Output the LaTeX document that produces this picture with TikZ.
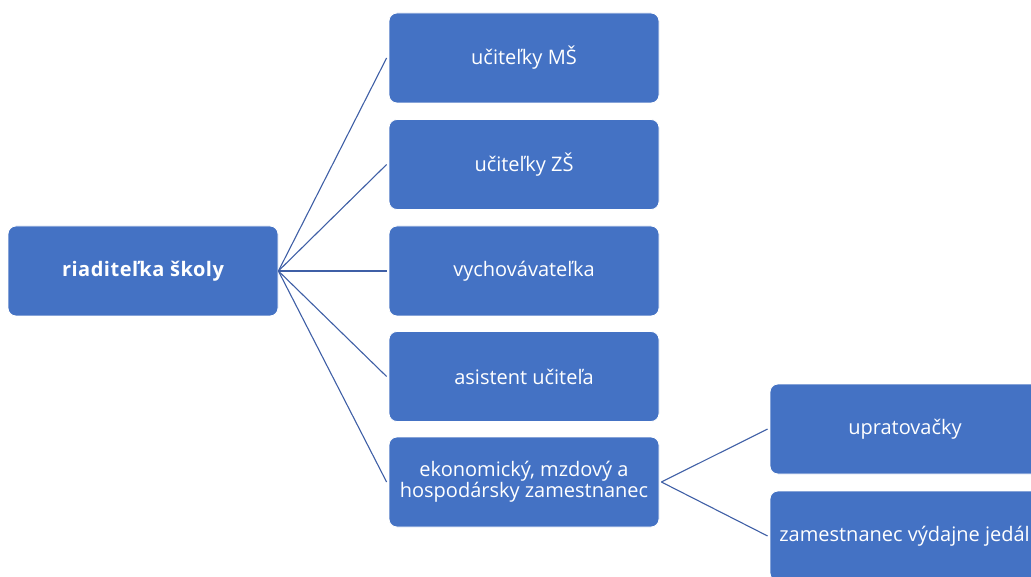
\documentclass[tikz,border=0pt]{standalone}
\usepackage{fontspec}
\setmainfont{Open Sans}
\definecolor{boxblue}{HTML}{4472C4}
\definecolor{linkblue}{HTML}{3F5FA6}
\begin{document}
\begin{tikzpicture}[x=1pt,y=-1pt,
  orgbox/.style={rectangle, rounded corners=8pt, fill=boxblue, draw=white, line width=0.8pt,
    minimum width=270pt, minimum height=90pt, inner sep=0pt, text=white, align=center,
    font=\fontsize{20}{17}\selectfont},
  rootbox/.style={orgbox, font=\fontsize{20}{17}\selectfont\bfseries\addfontfeature{LetterSpace=2.6}},
  link/.style={draw=linkblue, line width=1.1pt}]
\useasboundingbox (0,0) rectangle (1031,577);
\clip (0,0) rectangle (1031,577);
\node[rootbox] (root) at (143,271) {riaditeľka školy};
\node[orgbox] (ms) at (524,58) {učiteľky MŠ};
\node[orgbox] (zs) at (524,164.5) {učiteľky ZŠ};
\node[orgbox] (vych) at (524,271) {vychovávateľka};
\node[orgbox] (asis) at (524,376.5) {asistent učiteľa};
\node[orgbox] (ekon) at (524,482) {ekonomický, mzdový a\\hospodársky zamestnanec};
\node[orgbox] (uprat) at (905,429) {upratovačky};
\node[orgbox] (jed) at (905,536) {};
\node[anchor=east, inner sep=0pt, text=white, font=\fontsize{20}{17}\selectfont] (jedtext) at (1030,536) {zamestnanec výdajne jedál};
\foreach \t in {ms,zs,vych,asis,ekon} \draw[link] (root.east) -- ([xshift=-2pt]\t.west);
\draw[link] ([xshift=2pt]ekon.east) -- ([xshift=-2pt]uprat.west);
\draw[link] ([xshift=2pt]ekon.east) -- ([xshift=-2pt]jed.west);
\end{tikzpicture}
\end{document}
